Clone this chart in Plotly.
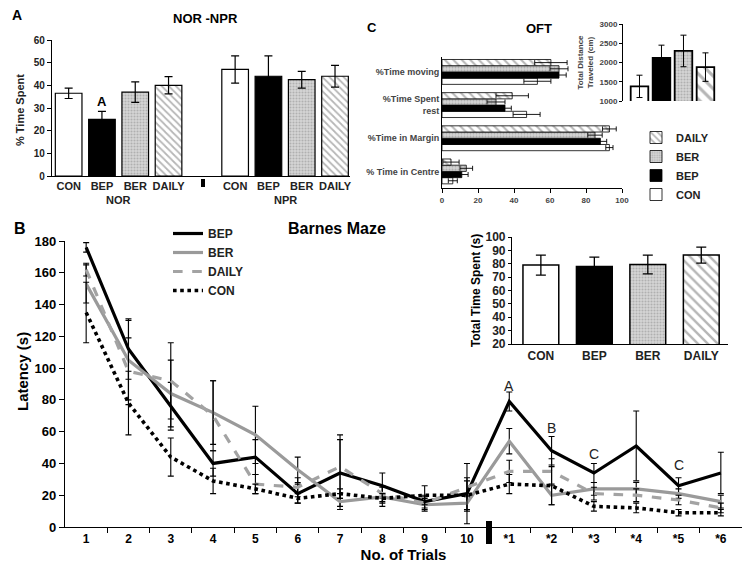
import plotly.graph_objects as go

# ---- data ----
groups = ["CON", "BEP", "BER", "DAILY"]

# A: NOR / NPR
nor_mean = [36.5, 25, 37, 40]
nor_err = [2.3, 3.5, 4.5, 3.8]
npr_mean = [47, 44, 42.5, 44]
npr_err = [6, 9, 3.7, 4.8]

# C: OFT (bottom to top)
oft_measures = ["% Time in Centre", "%Time in Margin", "%Time Spent<br>rest", "%Time moving"]
oft_mean = {
    "CON": [6, 93, 47, 53],
    "BEP": [11, 88, 35, 65],
    "BER": [13.5, 85, 30, 65],
    "DAILY": [5, 93, 39, 60.5],
}
oft_err = {
    "CON": [2.5, 2, 7.5, 7.5],
    "BEP": [3.5, 3.5, 3.5, 4],
    "BER": [3.5, 4, 5, 5],
    "DAILY": [4.5, 3.8, 9, 9],
}
dist_mean = [1380, 2120, 2300, 1880]
dist_err = [290, 330, 410, 370]

# B: Barnes maze
trials = ["1", "2", "3", "4", "5", "6", "7", "8", "9", "10",
          "*1", "*2", "*3", "*4", "*5", "*6"]
lat_mean = {
    "BEP": [176, 112, 76, 40, 44, 21, 34, 26, 16, 21, 79, 48, 34, 51, 26, 34],
    "BER": [153, 105, 84, 72, 58, 36, 16, 19, 14, 15, 54, 20, 24, 24, 21, 16],
    "DAILY": [162, 98, 92, 70, 27, 25, 38, 21, 15, 25, 35, 35, 21, 20, 17, 12],
    "CON": [135, 78, 44, 29, 24, 18, 21, 18, 20, 20, 27, 26, 13, 12, 9, 9],
}
lat_err = {
    "BEP": [3, 19, 15, 8, 11, 6, 21, 8, 4, 19, 6, 9, 6, 22, 5, 13],
    "BER": [12, 25, 21, 20, 18, 8, 5, 6, 4, 5, 8, 6, 4, 4, 3, 4],
    "DAILY": [4, 21, 24, 22, 6, 6, 20, 5, 4, 6, 7, 8, 4, 4, 3, 3],
    "CON": [19, 20, 12, 8, 3, 3, 3, 3, 6, 9, 6, 12, 3, 3, 2, 2],
}
sig_labels = ["A", "B", "C", "C"]
sig_trials = [11, 12, 13, 15]
sig_y = [89, 62, 46, 39]

time_mean = [79, 78, 79.5, 86.5]
time_err = [7.5, 7, 7, 6]

# ---- styles ----
FONT = "Liberation Sans, Arial, sans-serif"
W, H = 752, 573


def fill(g, size=5):
    if g == "CON":
        return dict(color="white")
    if g == "BEP":
        return dict(color="black")
    if g == "BER":
        return dict(color="#cfcfcf", pattern=dict(shape=".", fgcolor="#8a8a8a",
                                                  bgcolor="#d6d6d6", size=3, solidity=0.4))
    return dict(color="white", pattern=dict(shape="\\", fgcolor="#6e6e6e",
                                             bgcolor="white", size=size, solidity=0.35))


def bar_marker(g, lw=1.2, size=5):
    m = fill(g, size)
    m["line"] = dict(color="black", width=lw)
    return m


def err(arr, w=4, t=1.2):
    return dict(type="data", array=arr, color="black", thickness=t, width=w)


def px_x(p):
    return p / W


def px_y(p):
    return 1 - p / H


fig = go.Figure()

# ---- panel A ----
for i, g in enumerate(groups):
    fig.add_trace(go.Bar(
        x=[i, i + 5], y=[nor_mean[i], npr_mean[i]], width=0.8,
        marker=bar_marker(g), error_y=err([nor_err[i], npr_err[i]]),
        xaxis="x", yaxis="y", showlegend=False))

# ---- panel C: OFT ----
for g in groups:
    fig.add_trace(go.Bar(
        y=list(range(len(oft_measures))), x=oft_mean[g], orientation="h",
        marker=bar_marker(g, lw=0.8, size=6), error_x=err(oft_err[g], w=2.5, t=0.9),
        name=g, legend="legend2", xaxis="x2", yaxis="y2"))

for i, g in enumerate(groups):
    fig.add_trace(go.Bar(
        x=[i], y=[dist_mean[i]], base=0, width=0.8,
        marker=bar_marker(g, lw=1.8, size=9), error_y=err([dist_err[i]], w=3, t=1),
        showlegend=False, xaxis="x3", yaxis="y3"))

# ---- panel B ----
line_styles = {
    "BEP": dict(color="black", width=3.2),
    "BER": dict(color="#9a9a9a", width=3.2),
    "DAILY": dict(color="#a3a3a3", width=3.2, dash="dash"),
    "CON": dict(color="black", width=3.6, dash="dot"),
}
xs = list(range(1, len(trials) + 1))
for g in ["BEP", "BER", "DAILY", "CON"]:
    fig.add_trace(go.Scatter(
        x=xs, y=lat_mean[g], mode="lines", name=g, line=line_styles[g],
        error_y=err(lat_err[g], w=3, t=1.1), legend="legend",
        xaxis="x4", yaxis="y4"))

for i, g in enumerate(groups):
    fig.add_trace(go.Bar(
        x=[i], y=[time_mean[i]], width=0.67,
        marker=bar_marker(g, lw=1.5, size=7), error_y=err([time_err[i]], w=5, t=1.3),
        showlegend=False, xaxis="x5", yaxis="y5"))

# ---- axes ----
axis_common = dict(showgrid=False, zeroline=False, showline=True, linecolor="black",
                   linewidth=1.2, ticks="outside", tickcolor="black",
                   tickfont=dict(family=FONT, size=10, color="#222", weight="bold"))

layout = dict(
    width=W, height=H, margin=dict(l=0, r=0, t=0, b=0, autoexpand=False),
    paper_bgcolor="white", plot_bgcolor="white",
    font=dict(family=FONT, color="black"),
    barmode="group", bargap=0.25, bargroupgap=0,
)

# A
layout["xaxis"] = dict(axis_common, domain=[px_x(52), px_x(350)], range=[-0.5, 8.45],
                       tickvals=[0, 1, 2, 3, 5, 6, 7, 8], ticktext=groups + groups,
                       ticks="", anchor="y",
                       tickfont=dict(family=FONT, size=11, color="#222", weight="bold"))
layout["yaxis"] = dict(axis_common, domain=[px_y(176), px_y(40)], range=[0, 60], dtick=10,
                       ticklen=4, anchor="x")
# C OFT
layout["xaxis2"] = dict(axis_common, domain=[px_x(442), px_x(622)], range=[0, 100], dtick=20,
                        ticklen=4, anchor="y2", linewidth=1,
                        tickfont=dict(family=FONT, size=8, color="#444", weight="bold"))
layout["yaxis2"] = dict(axis_common, domain=[px_y(188), px_y(57)], range=[-0.5, 3.45],
                        tickvals=list(range(len(oft_measures))), ticktext=oft_measures,
                        ticks="", anchor="x2", linewidth=1,
                        tickfont=dict(family=FONT, size=9, color="#444", weight="bold"))
# C inset
layout["xaxis3"] = dict(axis_common, domain=[px_x(623), px_x(718)], range=[-0.75, 3.57],
                        showticklabels=False, ticks="", anchor="y3", showline=False)
layout["yaxis3"] = dict(axis_common, domain=[px_y(101), px_y(24)], range=[1000, 3000],
                        dtick=500, ticklen=3, anchor="x3", linewidth=1,
                        tickfont=dict(family=FONT, size=8, color="#444", weight="bold"),
                        title=dict(text="Total Distance<br>Traveled (cm)", standoff=4,
                                   font=dict(family=FONT, size=8, color="#444", weight="bold")))
# B
layout["xaxis4"] = dict(axis_common, domain=[px_x(65), px_x(742)], range=[0.5, 16.5],
                        tickvals=xs, ticktext=trials, ticks="", anchor="y4",
                        minor=dict(tickvals=[v + 0.5 for v in xs[:-1]], ticks="outside",
                                   ticklen=5, tickcolor="black"),
                        tickfont=dict(family=FONT, size=12, color="black", weight="bold"),
                        title=dict(text="No. of Trials", standoff=4,
                                   font=dict(family=FONT, size=15, weight="bold")))
layout["yaxis4"] = dict(axis_common, domain=[px_y(527), px_y(241)], range=[0, 180], dtick=20,
                        ticklen=5, anchor="x4",
                        tickfont=dict(family=FONT, size=13, color="black", weight="bold"))
# B inset
layout["xaxis5"] = dict(axis_common, domain=[px_x(512), px_x(728)], range=[-0.54, 3.5],
                        tickvals=list(range(4)), ticktext=groups, ticks="", anchor="y5",
                        tickfont=dict(family=FONT, size=12, color="#222", weight="bold"))
layout["yaxis5"] = dict(axis_common, domain=[px_y(344), px_y(237)], range=[20, 100], dtick=10,
                        ticklen=3, anchor="x5",
                        tickfont=dict(family=FONT, size=12, color="#222", weight="bold"),
                        title=dict(text="Total Time Spent (s)", standoff=2,
                                   font=dict(family=FONT, size=12, weight="bold")))

layout["legend"] = dict(x=px_x(168), y=px_y(219), xanchor="left", yanchor="top",
                        bgcolor="rgba(0,0,0,0)", tracegroupgap=0,
                        font=dict(family=FONT, size=12, color="#222", weight="bold"))
layout["legend2"] = dict(x=px_x(636), y=px_y(123), xanchor="left", yanchor="top",
                         traceorder="reversed", bgcolor="rgba(0,0,0,0)",
                         itemwidth=30, font=dict(family=FONT, size=11, color="#222", weight="bold"))

# separators between test blocks (drawn just below the x axes)
layout["shapes"] = [
    dict(type="rect", xref="paper", yref="paper", x0=px_x(201), x1=px_x(205),
         y0=px_y(187), y1=px_y(179), fillcolor="black", line=dict(width=0)),
    dict(type="rect", xref="paper", yref="paper", x0=px_x(486), x1=px_x(492),
         y0=px_y(544), y1=px_y(521), fillcolor="black", line=dict(width=0)),
]

fig.update_layout(**layout)

# ---- text ----
def note(text, x, y, size, xref="paper", yref="paper", color="black", weight="bold", **kw):
    fig.add_annotation(text=text, x=x, y=y, xref=xref, yref=yref, showarrow=False,
                       xanchor="center", yanchor="middle",
                       font=dict(family=FONT, size=size, color=color, weight=weight), **kw)


note("A", px_x(17), px_y(15), 14)
note("NOR -NPR", px_x(205), px_y(18), 13)
note("% Time Spent", px_x(20), px_y(110), 11, color="#222", textangle=-90)
note("A", 1, 33, 13, xref="x", yref="y")
note("NOR", 1.5, px_y(200), 11, xref="x", color="#222")
note("NPR", 6.5, px_y(200), 11, xref="x", color="#222")
note("C", px_x(372), px_y(28), 13)
note("OFT", px_x(539), px_y(29), 13)
note("B", px_x(20), px_y(228), 16)
note("Barnes Maze", px_x(337), px_y(228), 16)
note("Latency (s)", px_x(22), px_y(372), 15, textangle=-90)
for lab, t, yv in zip(sig_labels, sig_trials, sig_y):
    note(lab, t, yv, 14, xref="x4", yref="y4", color="#222", weight="normal")

# page body has a default margin; drop it so the figure sits at the window corner
fig.write_html("out.html", config={"displayModeBar": False},
               post_script="document.body.style.margin='0px';")
